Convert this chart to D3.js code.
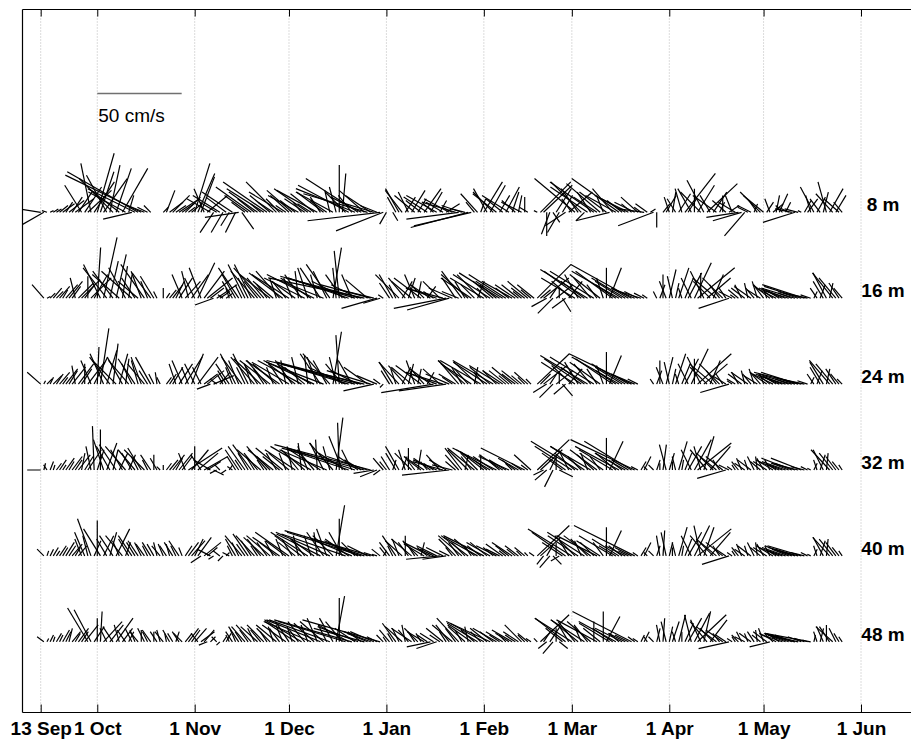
<!DOCTYPE html>
<html><head><meta charset="utf-8">
<script src="https://cdn.jsdelivr.net/npm/d3@7"></script>
<style>body{margin:0;background:#fff}svg{display:block}</style>
</head><body><svg id="chart" width="911" height="742"></svg>
<script>
// ---------- data ----------
const depths = ["8 m","16 m","24 m","32 m","40 m","48 m"];
const tickDates = ["2002-09-13","2002-10-01","2002-11-01","2002-12-01","2003-01-01","2003-02-01","2003-03-01","2003-04-01","2003-05-01","2003-06-01"];
const tickLabels = ["13 Sep","1 Oct","1 Nov","1 Dec","1 Jan","1 Feb","1 Mar","1 Apr","1 May","1 Jun"];
const firstDay = "2002-09-13";   // daily sticks, index 0 = 13 Sep
const scaleBarSpeed = 50;        // cm/s
const scaleBarLabel = "50 cm/s";

// [u, v] in cm/s, one per day; null = gap
const s8 = [
[-13,2],[-14,-8],[-3,1],[2,1],[3,2],[3,2],[5,4],[7,5],[4,6],[9,7],
[6,9],[11,8],[8,12],[-10,16],[10,15],[14,13],[-6,29],[12,18],[10,35],[8,24],
[14,20],[-12,22],[6,28],[-20,20],[9,26],[-18,14],[15,26],[-22,12],[3,10],[-17,-4],
[-28,14],[-42,24],[-45,22],[-10,4],[-6,3],[-4,4],null,null,null,[3,3],
[5,13],[8,6],[10,10],[6,4],[12,8],[7,5],[9,9],[4,3],[6,5],[9,29],
[10,23],[8,21],[-6,14],[12,10],[-14,8],[-8,-12],[-10,6],[-16,10],[-7,-12],[-12,9],
[-5,-8],[-18,12],[-6,-12],[-20,-3],[7,-10],[-8,6],[-14,10],[-21,15],[-10,8],[-17,12],
[-6,5],[-22,14],[-26,18],[-12,10],[-9,6],[-18,18],[-8,8],[-20,12],[-6,4],[-11,10],
[-15,13],[-9,7],[-18,10],[-5,6],[-12,8],[-20,14],[-8,5],[-14,11],[-24,13],[-6,9],
[-16,12],[-10,7],[-3,13],[-22,12],[-4,15],[0,28],[2,23],[-12,12],[-30,16],[-8,10],
[-35,14],[-31,20],[-18,9],[-15,13],[-38,11],[-15,10],[-20,6],[-10,4],[-43,-5],[-28,-11],
[-4,-7],null,[3,-5],[-5,9],[-8,14],[-10,13],[6,9],[-6,12],[8,13],[-12,10],
[5,8],[-9,7],[10,14],[-14,9],[7,12],[-6,5],[-18,10],[4,7],[-10,6],[8,5],
[-15,8],[-6,3],[-20,6],[-31,-4],[-12,4],[-8,2],[-34,-9],[-34,-8],[-5,6],[-10,11],
[3,8],[11,18],[-8,14],[9,16],[-12,12],[-14,11],[6,10],[-10,8],[8,15],[-16,10],
[4,12],[-8,7],[2,10],[-12,6],[0,9],[-5,3],null,null,[-2,1],[18,18],
[17,16],[0,-14],[-5,-13],[4,-6],[9,14],[-7,-12],[6,10],[-12,-8],[14,12],[-6,8],
[-24,20],[-10,14],[-18,18],[-5,-5],[-22,15],[-8,12],[-26,18],[-14,9],[-20,17],[-4,10],
[-16,12],[-20,-5],[-12,14],[-18,10],[-28,20],[-9,7],[-14,8],[-20,10],[-6,5],[-12,6],
[-10,9],[-4,3],[-15,2],[-7,5],[3,2],[-21,-8],[0,-9],null,[4,5],[6,10],
[-3,9],[2,12],[-5,8],[7,11],[-4,14],[18,23],[5,8],[-8,14],[0,14],[10,16],
[-12,12],[-10,19],[18,17],[-6,10],[8,12],[-14,10],[3,6],[0,10],[-8,7],[6,4],
[-4,10],[-10,6],[-19,-3],[-17,-5],[-12,-14],[-6,3],[-8,4],[2,5],[-5,7],[-12,12],
[-12,10],[4,6],[-3,8],[6,5],[2,10],[5,11],[-4,4],[3,6],[-6,3],[-10,2],
[-19,-6],[-8,2],[-2,1],[4,7],[6,8],[-3,10],[-8,15],[5,9],[-6,8],[3,12],
[-5,18],[8,14],[-10,11],[6,10],[-9,8],[-5,6]];

const s16 = [
null,[-7,8],[2,1],[3,3],[5,6],[4,4],[6,7],[3,5],[7,8],[8,10],
[5,7],[-3,12],[9,9],[11,11],[6,8],[0,13],[12,12],[8,14],[2,30],[-10,20],
[8,36],[-14,18],[5,22],[-12,16],[6,26],[-16,14],[3,19],[-10,18],[2,14],[-18,16],
[-8,12],[-12,10],[-6,16],[-14,20],[-4,10],[-11,15],[-8,13],[-2,4],null,[0,6],
[2,3],[4,5],[6,8],[5,10],[8,12],[-6,14],[9,10],[-4,16],[10,14],[-6,12],
[10,21],[-7,18],[12,16],[15,12],[8,6],[-11,-4],[12,8],[6,4],[-3,2],[4,3],
[-2,6],[-6,10],[-8,14],[-12,18],[-4,8],[-10,20],[-6,12],[-10,20],[-14,16],[-8,10],
[-16,18],[-10,12],[-6,8],[-18,14],[-12,10],[-4,12],[-14,16],[-20,15],[-8,10],[-22,14],
[-5,12],[-14,10],[-2,16],[-10,14],[-24,12],[-6,18],[-18,12],[-28,14],[-4,14],[-12,18],
[-30,12],[-8,16],[-14,20],[5,30],[-2,18],[-3,28],[-10,14],[-20,10],[-36,12],[-6,14],
[-41,12],[-16,8],[-48,13],[-57,12],[-13,11],[-30,8],[-20,5],[-21,-6],[-10,-3],[-3,2],
null,[-6,9],[-8,14],[-4,8],[-14,14],[6,10],[-10,12],[4,12],[-12,10],[-6,14],
[2,10],[-16,12],[-8,8],[5,7],[-12,8],[-6,4],[-18,6],[-10,10],[-22,6],[-31,-6],
[-25,-7],[-14,6],[-8,12],[-10,4],[-12,16],[-6,10],[-16,14],[-18,12],[-8,8],[4,10],
[-14,14],[-20,12],[-6,6],[-22,14],[-12,10],[-10,8],[-24,15],[-16,10],[-22,14],[-8,6],
[-18,10],[-12,8],[-10,8],[-5,4],[-8,6],[-12,10],[-6,5],[-10,8],[20,20],[6,5],
[15,12],[-9,-5],[4,6],[-9,-9],[10,8],[0,6],[5,-8],[-8,-6],[8,10],[-12,10],
[-20,12],[-8,14],[-22,16],[-14,10],[-28,17],[-10,12],[-26,16],[-6,8],[-18,14],[-4,12],
[0,18],[7,18],[-22,16],[-12,8],[-28,16],[-16,10],[-20,12],[-10,6],[-36,20],[-14,6],
[-8,4],[-16,5],[-6,3],[-3,2],null,null,[-2,4],[3,8],[0,14],[-4,10],
[4,17],[-3,13],[2,9],[6,18],[-2,6],[5,12],[8,15],[-6,12],[10,21],[22,18],
[0,15],[-8,16],[14,12],[-10,10],[6,14],[-14,12],[-6,8],[-12,12],[-4,6],[-18,-6],
[-8,4],[-3,2],[-6,5],[-4,8],[-8,6],[-2,9],[-10,7],[-5,6],[-3,10],[-8,5],
[-6,8],[-2,6],[-10,8],[-5,4],[-12,6],[-8,5],[-14,6],[-10,4],[-16,5],[-8,3],
[-20,6],[-12,4],[-22,7],[-25,8],[-14,3],[-6,2],[2,4],[-4,6],[3,8],[-6,10],
[-8,15],[2,9],[-12,15],[-10,12],[-6,9],[-5,6]];

const s24 = [
[-8,7],[1,2],[3,3],[2,4],[5,5],[4,6],[6,7],[3,4],[7,9],[5,8],
[8,10],[-2,11],[9,12],[6,9],[0,12],[10,13],[-6,14],[8,16],[1,22],[5,33],
[-8,18],[6,20],[-12,16],[3,24],[-14,14],[5,18],[-9,16],[2,15],[-12,14],[-6,12],
[-10,15],[-4,14],[-6,16],[-10,12],[-5,8],[-9,16],[-3,6],[-1,7],[-2,4],null,
[3,4],[4,6],[6,10],[-4,12],[8,12],[-6,14],[10,16],[-4,10],[7,18],[-6,12],
[12,16],[-5,10],[8,6],[10,8],[-8,-3],[12,5],[-4,3],[6,7],[-3,5],[-5,8],
[-8,12],[-4,10],[-9,18],[-6,14],[-12,16],[-5,10],[-9,18],[-4,12],[-14,16],[-8,12],
[-16,15],[-6,9],[-12,14],[-18,14],[-4,10],[-14,12],[-20,14],[-8,12],[-3,14],[-22,13],
[-10,14],[-16,12],[-4,16],[-26,14],[-12,10],[-2,17],[-20,12],[-30,14],[-6,16],[-12,18],
[-34,13],[-8,14],[-16,18],[5,31],[-4,16],[-2,29],[-10,12],[-22,10],[-40,12],[-8,14],
[-44,12],[-16,8],[-50,13],[-58,14],[-14,10],[-26,8],[-18,-4],[-12,5],[-4,3],[-2,-2],
null,[-5,8],[-8,13],[-3,9],[-12,13],[5,10],[-10,11],[3,12],[-12,10],[-5,14],
[2,9],[-15,11],[-8,9],[4,7],[-12,9],[-31,-5],[-18,7],[-10,9],[-22,7],[-28,-4],
[-14,6],[-6,4],[-10,6],[-12,14],[-6,10],[-16,14],[-8,9],[-18,12],[2,10],[-14,13],
[-24,14],[-6,7],[-20,13],[-12,10],[-24,14],[-8,8],[-18,11],[-12,8],[-10,8],[-6,5],
[-12,10],[-8,6],[-10,8],[-6,5],[-4,4],[-8,7],[-3,3],null,[19,18],[6,6],
[14,11],[-8,-5],[4,6],[-8,-8],[10,8],[0,7],[6,-7],[-7,-6],[8,9],[-12,11],
[-20,13],[-8,13],[-22,15],[-14,10],[-28,17],[-10,12],[-26,16],[-6,9],[-18,13],[-4,11],
[0,19],[7,17],[-22,15],[-12,8],[-28,16],[-16,10],[-20,12],[-10,6],[-37,18],[-14,6],
[-6,3],null,null,null,null,[-2,3],[3,8],[0,14],[-4,10],[4,16],
[-3,13],[2,9],[6,18],[-2,6],[5,12],[8,15],[-6,12],[10,21],[0,15],[20,18],
[-8,16],[14,12],[-10,10],[6,14],[-14,12],[-6,8],[-12,12],[-4,6],[-8,5],[-17,-5],
[-3,2],[-5,3],[-4,7],[-8,6],[-2,8],[-10,7],[-5,6],[-3,9],[-8,5],[-6,7],
[-2,6],[-10,7],[-5,4],[-12,6],[-8,5],[-14,6],[-10,4],[-16,5],[-8,3],[-20,6],
[-12,4],[-22,7],[-28,7],[-14,3],[-6,2],[2,4],[-4,6],[3,8],[-6,10],[-8,13],
[2,9],[-12,14],[-10,12],[-6,9],[-5,6],[-3,3]];

const s32 = [
[-8,0],[1,4],[-2,3],[2,5],[1,3],[3,4],[4,6],[2,3],[5,7],[3,5],
[6,8],[4,6],[7,9],[2,10],[5,8],[8,12],[-3,14],[-1,26],[4,12],[0,24],
[-6,18],[6,16],[-8,14],[3,12],[-10,15],[5,10],[-7,12],[-12,14],[4,9],[-6,10],
[-10,12],[-4,8],[-8,13],[-12,12],[-3,6],[-6,9],[0,9],[-4,7],[-2,2],[0,3],
[3,4],[5,6],[7,9],[4,7],[8,10],[6,8],[-4,10],[20,13],[10,12],[0,14],
[12,10],[-6,9],[14,8],[8,5],[-10,6],[6,-3],[-4,-2],[-3,3],null,[-3,-2],
[2,3],[-3,2],[-5,8],[-8,12],[-4,6],[-10,14],[-6,10],[-11,15],[-5,8],[-8,10],
[-14,12],[-4,6],[-12,14],[-8,8],[-15,12],[-6,10],[-10,8],[-16,13],[-4,10],[-12,10],
[-3,14],[-18,12],[-8,10],[-2,16],[-14,12],[-6,14],[-24,14],[-10,12],[-1,18],[-20,13],
[-8,16],[-28,12],[-4,14],[-14,16],[4,31],[-1,28],[-8,20],[-16,10],[-36,12],[-6,12],
[-40,13],[-12,8],[-10,6],[-49,13],[-24,8],[-57,15],[-12,-2],[-10,-4],[-4,-3],[-6,7],
[-4,5],[-5,8],[2,6],[-6,10],[-8,14],[3,8],[-4,12],[0,13],[-10,10],[-6,8],
[2,12],[-8,6],[-12,8],[-4,5],[-10,7],[-6,4],[-14,6],[-8,9],[-18,5],[-10,6],
[-28,-3],[-12,3],[-6,5],[-8,9],[-10,13],[2,9],[-12,12],[-6,8],[-16,13],[-10,10],
[0,9],[-14,11],[-8,6],[-20,12],[-12,8],[-26,13],[-6,5],[-14,9],[-10,6],[-18,8],
[-4,4],[-8,6],[-12,7],[-6,4],[-26,13],[-4,3],[-10,9],null,[19,18],[13,12],
[-6,-3],[-7,-6],[4,8],[-5,-10],[0,8],[8,-4],[-8,6],[-14,10],[-6,12],[-22,14],
[-12,10],[-28,17],[-8,8],[-20,14],[-4,10],[-24,14],[-10,9],[-16,12],[-6,8],[-14,10],
[0,19],[8,17],[-20,12],[-12,10],[-26,14],[-8,6],[-18,10],[-10,6],[-28,17],[-38,18],
[-4,2],[3,5],[4,8],[-2,2],null,[-3,3],[2,6],[0,4],[2,15],[-4,15],
[3,10],[0,5],[-2,8],[5,17],[1,6],[4,10],[8,14],[-6,12],[10,18],[20,16],
[-4,14],[6,20],[-10,12],[12,14],[-8,8],[-12,10],[-4,6],[-10,8],[-17,-5],[-6,3],
[-3,2],[-2,3],[-4,5],[-3,7],[-6,4],[-2,6],[-8,6],[-4,8],[-1,8],[-6,5],
[-4,7],[-8,5],[-3,6],[-10,6],[-6,4],[-12,5],[-8,3],[-14,5],[-10,4],[-18,7],
[-12,4],[-16,4],[-18,7],[-8,2],[-4,2],[-2,1],[2,4],[-2,6],[3,9],[-6,12],
[1,10],[-11,12],[-8,10],[-6,8],[-4,5],[-2,3]];

const s40 = [
null,[-4,4],[1,3],[2,4],[3,5],[2,3],[4,6],[3,5],[5,8],[4,6],
[6,7],[3,5],[5,6],[-4,10],[-6,14],[-3,12],[-8,22],[4,9],[0,21],[-10,16],
[6,12],[-6,10],[4,14],[-8,12],[8,16],[-4,9],[-10,12],[3,8],[-6,10],[-8,12],
[-5,8],[-6,9],[-4,8],[-5,7],[-3,6],[-5,8],[-4,7],[-2,8],[-5,6],[-3,7],
[-4,6],[-2,7],[-5,8],[-3,6],[-6,9],[-2,5],[4,6],[6,8],[8,9],[5,10],
[8,11],[-6,-4],[10,8],[6,5],[-8,4],[-3,-2],null,[-4,3],[-3,-3],[2,2],
[-4,2],[-3,6],[-6,10],[-4,8],[-10,12],[-5,7],[-9,13],[-6,9],[-11,12],[-4,6],
[-8,10],[-12,11],[-6,8],[-14,12],[-5,9],[-10,8],[-16,11],[-4,10],[-12,9],[-20,14],
[-6,10],[-10,8],[-3,12],[-16,12],[-8,10],[-22,14],[-4,12],[-14,10],[-2,14],[-26,13],
[-10,14],[-6,16],[-32,14],[-12,12],[5,30],[0,22],[-8,14],[-38,13],[-14,10],[-24,10],
[-8,8],[-20,9],[-44,14],[-30,10],[-12,6],[-51,15],[-6,2],[-3,1],[-5,4],[2,3],
[-4,5],[-6,8],[-3,6],[-8,12],[-4,10],[-10,9],[0,12],[-6,8],[-12,10],[-4,6],
[-9,9],[2,8],[-12,7],[-6,5],[-16,8],[-8,4],[-12,6],[-20,-2],[-10,5],[-14,-2],
[-6,3],[-4,5],[-10,10],[-6,8],[-14,12],[-8,8],[-16,12],[-4,6],[-12,10],[-20,11],
[-8,6],[-24,12],[-10,8],[-14,8],[-6,5],[-12,6],[-8,4],[-10,7],[-4,3],[-8,6],
[-12,8],[-5,4],[-8,6],[-3,3],[-6,5],[-2,2],null,[-3,2],[19,18],[12,11],
[-4,-5],[4,7],[-6,-7],[5,-5],[0,8],[-5,-3],[-12,8],[-20,14],[-6,10],[-26,16],
[-12,12],[-18,12],[-4,9],[-22,14],[-10,10],[-16,12],[-8,8],[-24,12],[-14,9],[-6,8],
[0,17],[7,15],[-20,12],[-10,6],[-16,10],[-8,6],[-12,6],[-6,3],[-10,5],[-36,18],
[-3,2],[3,5],[4,8],[-2,2],null,[-3,3],[2,6],[-2,12],[1,15],[-3,14],
[2,8],[0,5],[-2,8],[5,17],[1,6],[4,10],[8,14],[-6,12],[9,18],[20,16],
[-4,18],[6,17],[-10,12],[12,14],[-8,8],[-12,10],[-4,6],[-10,8],[-6,4],[-16,-5],
[-3,2],[-2,3],[-4,5],[-3,7],[-6,4],[-2,6],[-8,6],[-4,8],[-1,8],[-6,5],
[-4,7],[-8,5],[-3,6],[-10,6],[-6,4],[-12,5],[-8,3],[-14,5],[-10,4],[-16,6],
[-12,4],[-18,5],[-20,6],[-8,2],[-4,2],[-2,1],[2,4],[-2,6],[3,9],[-6,11],
[1,10],[-10,11],[-8,10],[-6,8],[-4,5],[-2,3]];

const s48 = [
null,[-4,3],[1,2],[2,4],[1,3],[3,5],[2,4],[4,7],[3,6],[2,8],
[5,6],[3,5],[6,8],[4,6],[8,10],[-12,20],[-10,19],[6,9],[0,14],[1,18],
[11,12],[-4,8],[8,10],[-6,9],[10,14],[-3,10],[6,8],[-5,7],[3,6],[-4,8],
[-3,7],[-5,6],[0,7],[-4,8],[-3,6],[-5,7],[0,6],[-4,6],[-2,7],[-5,6],
[-1,5],[-4,7],[-3,5],[2,6],[-4,6],[-5,5],[4,5],[6,8],[5,7],[7,8],
[-4,5],[8,6],[6,7],[-5,-2],[3,3],null,[-3,3],[-2,-2],[2,3],[3,5],
[-2,4],[-4,6],[-3,7],[-6,9],[-4,6],[-8,9],[-5,7],[-9,10],[-4,8],[-10,9],
[-6,7],[-10,10],[-4,6],[-8,8],[-3,9],[-12,10],[-6,8],[-4,10],[-14,10],[-8,12],
[-3,9],[-18,12],[-6,8],[-22,13],[-10,12],[-4,10],[-28,12],[-12,11],[-6,14],[-32,13],
[-14,12],[-5,10],[-36,13],[-8,14],[5,27],[0,26],[-10,12],[-40,12],[-18,10],[-46,13],
[-12,8],[-24,9],[-8,6],[-30,8],[-12,5],[-16,6],[-14,6],[-6,3],[-46,13],[-4,4],
[-2,3],[-6,7],[-3,5],[-8,11],[-4,8],[-10,9],[-2,10],[-6,7],[-12,8],[-4,6],
[-8,8],[-3,5],[-10,6],[-6,4],[-14,-3],[-8,5],[-12,-4],[-6,4],[-10,8],[-4,6],
[-8,10],[-12,10],[-6,8],[-13,14],[-4,7],[-10,9],[-2,9],[-14,10],[-8,7],[-18,11],
[-6,6],[-20,11],[-10,8],[-26,12],[-8,6],[-14,8],[-6,4],[-10,6],[-4,4],[-8,5],
[-12,7],[-6,4],[-9,6],[-10,10],[-4,4],[-6,5],[-3,2],null,[-2,2],[17,16],
[4,6],[-5,-4],[6,9],[-6,-7],[0,8],[5,-4],[-10,8],[-18,14],[-6,10],[-22,14],
[-10,12],[-16,13],[-4,9],[-20,13],[-8,10],[-14,12],[0,12],[-24,13],[-10,8],[0,18],
[8,15],[-18,11],[-12,8],[-22,12],[-6,5],[-16,8],[-10,5],[-8,4],[-35,18],[-4,3],
[-3,2],[2,4],[3,6],[-2,3],null,[-3,3],[2,8],[-2,10],[1,14],[-3,12],
[2,9],[4,12],[-2,6],[4,16],[0,6],[5,11],[8,14],[-4,16],[9,17],[17,16],
[-6,13],[4,18],[-10,12],[10,13],[-8,8],[-12,9],[-4,5],[-10,7],[-6,4],[-18,-4],
[-3,2],[-2,3],[-4,4],[-3,6],[-6,3],[-2,5],[-7,5],[-4,6],[-1,7],[-5,4],
[-3,8],[-8,6],[-12,-3],[-5,5],[-10,5],[-6,4],[-12,4],[-8,3],[-14,5],[-10,4],
[-16,4],[-20,5],[-8,3],[-6,2],[-3,1],[-27,5],[1,4],[-2,6],[2,8],[-4,9],
[0,10],[-6,9],[-10,9],[-4,8],[-3,5],[-2,3]];

const series = [s8, s16, s24, s32, s40, s48];

// ---------- layout ----------
const frame = {left: 22.5, top: 9.5, bottom: 712.5, right: 935};
const parse = d3.utcParse("%Y-%m-%d");
const ticks = tickDates.map(parse);
const start = parse(firstDay);

const x = d3.scaleUtc().domain([ticks[0], ticks[ticks.length - 1]]).range([40.7, 861]);
const y = d3.scalePoint().domain(depths).range([212.3, 641.8]);
const len = d3.scaleLinear().domain([0, scaleBarSpeed]).range([0, 84.4]);

const svg = d3.select("#chart");

svg.append("defs").append("clipPath").attr("id", "clip")
  .append("rect").attr("x", frame.left).attr("y", frame.top)
  .attr("width", frame.right - frame.left).attr("height", frame.bottom - frame.top);

// grid
svg.append("g").selectAll("line").data(ticks).join("line")
  .attr("x1", d => x(d)).attr("x2", d => x(d))
  .attr("y1", frame.top).attr("y2", frame.bottom)
  .attr("stroke", "#b8b8b8").attr("stroke-width", 1)
  .attr("stroke-dasharray", "1,2");

// sticks
const gS = svg.append("g").attr("clip-path", "url(#clip)");
series.forEach((arr, k) => {
  const y0 = y(depths[k]);
  const recs = [];
  arr.forEach((p, i) => { if (p) recs.push({t: d3.utcDay.offset(start, i), u: p[0], v: p[1]}); });
  gS.append("g").selectAll("line").data(recs).join("line")
    .attr("x1", d => x(d.t)).attr("y1", y0)
    .attr("x2", d => x(d.t) + len(d.u)).attr("y2", d => y0 - len(d.v))
    .attr("stroke", "#000").attr("stroke-width", 1.2);
});

// axes
const bottomAxis = d3.axisBottom(x).tickValues(ticks)
  .tickFormat((d, i) => tickLabels[i]).tickSize(-8).tickPadding(9);
const gb = svg.append("g").attr("transform", `translate(0,${frame.bottom})`).call(bottomAxis);
gb.select(".domain").remove();
gb.selectAll("line").attr("stroke", "#000");
gb.selectAll("text").attr("font-family", "'Liberation Sans', Arial, sans-serif")
  .attr("font-size", 19).attr("font-weight", "bold").attr("fill", "#000");

const topAxis = d3.axisTop(x).tickValues(ticks).tickFormat("").tickSize(-7);
const gt = svg.append("g").attr("transform", `translate(0,${frame.top})`).call(topAxis);
gt.select(".domain").remove();
gt.selectAll("line").attr("stroke", "#000");

// frame
const fr = svg.append("g").attr("stroke", "#000").attr("stroke-width", 1.2);
fr.append("line").attr("x1", frame.left).attr("x2", frame.left).attr("y1", frame.top).attr("y2", frame.bottom);
fr.append("line").attr("x1", frame.left).attr("x2", frame.right).attr("y1", frame.top).attr("y2", frame.top);
fr.append("line").attr("x1", frame.left).attr("x2", frame.right).attr("y1", frame.bottom).attr("y2", frame.bottom);

// depth labels
svg.append("g").selectAll("text").data(depths).join("text")
  .attr("x", 883).attr("y", d => y(d) - 1)
  .attr("text-anchor", "middle")
  .attr("font-family", "'Liberation Sans', Arial, sans-serif")
  .attr("font-size", 19).attr("font-weight", "bold")
  .text(d => d);

// scale bar
const sb0 = x(ticks[1]);
svg.append("line").attr("x1", sb0).attr("x2", sb0 + len(scaleBarSpeed))
  .attr("y1", 93.5).attr("y2", 93.5).attr("stroke", "#707070").attr("stroke-width", 1.3);
svg.append("text").attr("x", sb0 + 1).attr("y", 122)
  .attr("font-family", "'Liberation Sans', Arial, sans-serif")
  .attr("font-size", 19).text(scaleBarLabel);
</script></body></html>
